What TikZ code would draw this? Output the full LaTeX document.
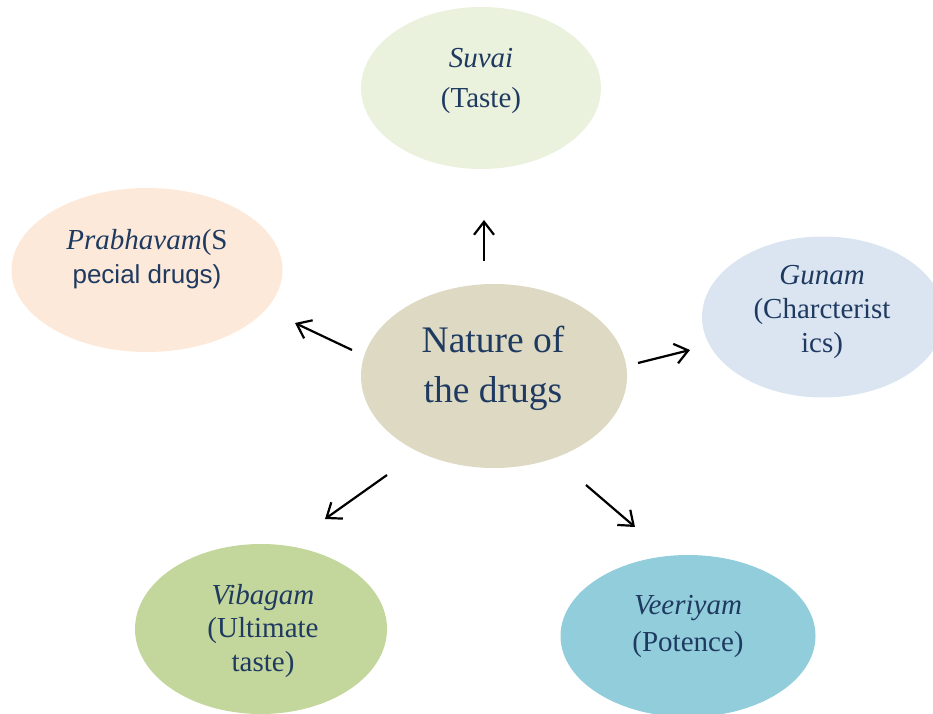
\documentclass[tikz,border=0pt]{standalone}
\usepackage{fontspec}
\setmainfont{Liberation Serif}
\newfontfamily\arialfont{Liberation Sans}
\usetikzlibrary{shapes.geometric,arrows.meta}
\definecolor{txtblue}{HTML}{1F3A60}
\definecolor{cSuvai}{HTML}{EAF1DD}
\definecolor{cPrab}{HTML}{FDE9D9}
\definecolor{cGunam}{HTML}{DBE5F1}
\definecolor{cCenter}{HTML}{DDD9C3}
\definecolor{cVib}{HTML}{C3D69B}
\definecolor{cVeer}{HTML}{92CDDC}
\tikzset{
  bubble/.style={ellipse, draw=none, inner sep=0pt},
  lbl/.style={text=txtblue, align=center, inner sep=0pt},
  arr/.style={-{Straight Barb[length=13pt,width=20pt]}, line width=2.2pt, black},
}
\begin{document}
\begin{tikzpicture}[x=1pt,y=1pt]
\useasboundingbox (0,0) rectangle (933,713);
% ellipses (y = 713 - pixel y)
\node[bubble, fill=cSuvai, minimum width=240pt, minimum height=162pt] (suvai) at (481,625) {};
\node[bubble, fill=cPrab, minimum width=271pt, minimum height=164pt] (prab) at (147,443) {};
\node[bubble, fill=cGunam, minimum width=242pt, minimum height=161pt] (gunam) at (823,396) {};
\node[bubble, fill=cCenter, minimum width=266pt, minimum height=184pt] (center) at (494,337) {};
\node[bubble, fill=cVib, minimum width=252pt, minimum height=170pt] (vib) at (261,84) {};
\node[bubble, fill=cVeer, minimum width=255pt, minimum height=162pt] (veer) at (688,77) {};
% texts
\node[lbl, font=\fontsize{29}{40}\selectfont] (suvait) at (481,632) {\textit{Suvai}\\(Taste)};
\node[lbl, font=\fontsize{29}{34}\selectfont] (prabt) at (147,454) {\textit{Prabhavam}(S\\{\arialfont\fontsize{26}{34}\selectfont pecial drugs)}};
\node[lbl, font=\fontsize{29}{34}\selectfont] (gunamt) at (822,401) {\textit{Gunam}\\(Charcterist\\ics)};
\node[lbl, font=\fontsize{37.5}{50}\selectfont] (centert) at (493,345) {Nature of\\the drugs};
\node[lbl, font=\fontsize{29}{33.5}\selectfont] (vibt) at (263,82) {\textit{Vibagam}\\(Ultimate\\taste)};
\node[lbl, font=\fontsize{29}{37}\selectfont] (veert) at (688,87) {\textit{Veeriyam}\\(Potence)};
% arrow end points
\coordinate (a1s) at (484,452);
\coordinate (a1e) at (484,493);
\coordinate (a2s) at (352,363);
\coordinate (a2e) at (295,390);
\coordinate (a3s) at (638,350);
\coordinate (a3e) at (690,363);
\coordinate (a4s) at (387,238);
\coordinate (a4e) at (325,194);
\coordinate (a5s) at (586,228);
\coordinate (a5e) at (635,186);
\draw[arr] (a1s) -- (a1e);
\draw[arr] (a2s) -- (a2e);
\draw[arr] (a3s) -- (a3e);
\draw[arr] (a4s) -- (a4e);
\draw[arr] (a5s) -- (a5e);
\end{tikzpicture}
\end{document}
